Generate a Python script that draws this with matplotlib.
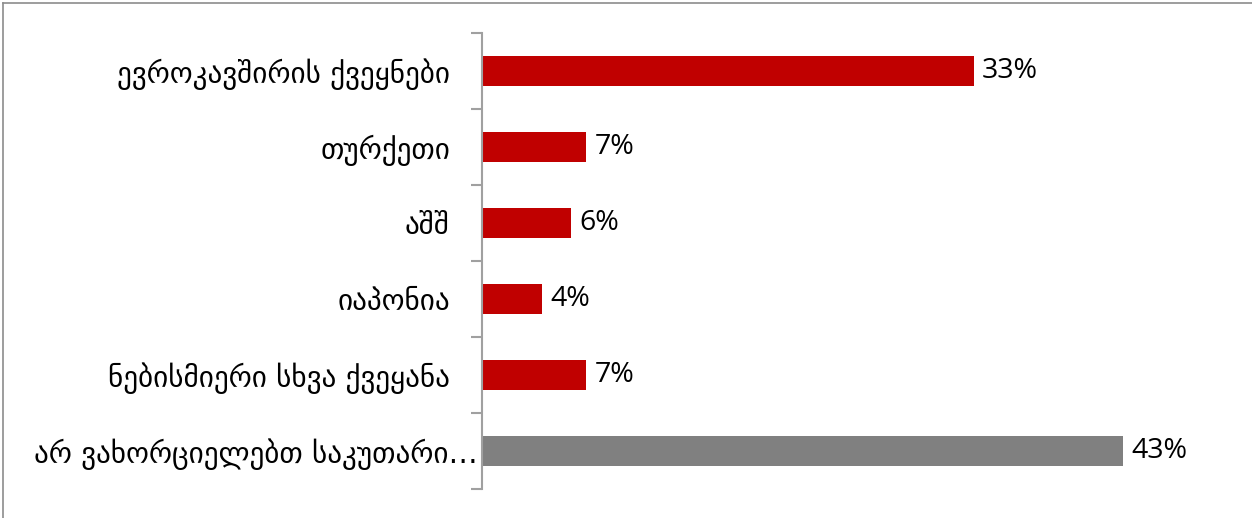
import matplotlib
matplotlib.use('Agg')
import matplotlib.pyplot as plt
import matplotlib.transforms as mtransforms
from matplotlib.lines import Line2D

# data (top to bottom)
categories = ['ევროკავშირის ქვეყნები',
              'თურქეთი',
              'აშშ',
              'იაპონია',
              'ნებისმიერი სხვა ქვეყანა',
              'არ ვახორციელებთ საკუთარი…']
values = [33, 7, 6, 4, 7, 43]
bar_colors = ['#C00000', '#C00000', '#C00000', '#C00000', '#C00000', '#808080']

fig = plt.figure(figsize=(12.52, 5.18), dpi=100)
ax = fig.add_axes([482 / 1252, 1 - 489 / 518, 1 - 482 / 1252 - 0.02, (489 - 33) / 518])

pos = list(range(len(categories)))
bars = ax.barh(pos, values, height=0.4, color=bar_colors)

ax.set_ylim(len(categories) - 0.5, -0.5)
ax.set_xlim(0, 50)

# value labels
for b, v in zip(bars, values):
    ax.annotate(f'{v}%', (b.get_width(), b.get_y() + b.get_height() / 2),
                xytext=(6, 0), textcoords='offset points',
                va='center', ha='left', fontsize=20.5, family='Open Sans', color='black')

# axis styling
for s in ['top', 'right', 'bottom']:
    ax.spines[s].set_visible(False)
ax.spines['left'].set_color('#A0A0A0')
ax.spines['left'].set_linewidth(1.5)
ax.set_xticks([])
ax.set_yticks(pos)
ax.set_yticklabels(categories, fontsize=21, family='DejaVu Sans')
ax.tick_params(axis='y', which='major', length=0, pad=23)
ax.set_yticks([p - 0.5 for p in pos] + [len(pos) - 0.5], minor=True)
ax.tick_params(axis='y', which='minor', length=8, width=1.5, color='#A0A0A0')

# truncated last label sits closer to the axis
last = ax.get_yticklabels()[-1]
last.set_transform(last.get_transform() +
                   mtransforms.ScaledTranslation(28 / 100, 0, fig.dpi_scale_trans))

# outer chart frame (top and left edges)
fig.add_artist(Line2D([3 / 1252, 1], [1 - 3 / 518, 1 - 3 / 518], color='#8C8C8C', linewidth=1.2))
fig.add_artist(Line2D([3 / 1252, 3 / 1252], [0, 1 - 3 / 518], color='#8C8C8C', linewidth=1.2))

fig.savefig('out.png', dpi=100)
